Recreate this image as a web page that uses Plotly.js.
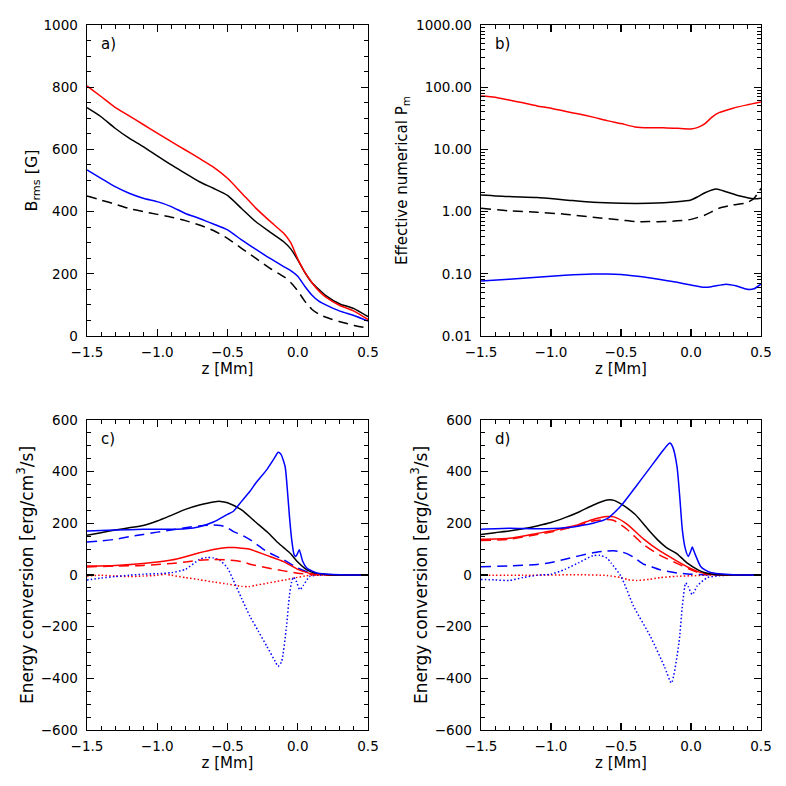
<!DOCTYPE html>
<html>
<head>
<meta charset="utf-8">
<script src="https://cdn.plot.ly/plotly-3.0.1.min.js"></script>
<style>
html,body{margin:0;padding:0;background:#fff;}
#chart{width:786px;height:786px;}
</style>
</head>
<body>
<div id="chart"></div>
<script>
// ---------- Panel a) B_rms [G] ----------
const zA = [-1.5,-1.4,-1.3,-1.2,-1.1,-1.0,-0.9,-0.8,-0.7,-0.6,-0.5,-0.4,-0.3,-0.2,-0.1,-0.05,0,0.05,0.1,0.15,0.2,0.3,0.4,0.5];
const aRed   = [804,770,735,708,680,652,625,598,571,543,507,460,412,370,330,300,248,205,172,145,125,98,80,53];
const aBlack = [734,705,668,636,609,579,550,523,496,475,452,410,368,335,303,280,245,205,172,150,130,103,88,62];
const aBlue  = [534,507,480,459,443,432,416,394,378,360,341,309,279,250,223,210,192,160,132,112,100,80,66,48];
const aDash  = [450,437,424,410,400,391,382,371,357,339,314,282,250,218,191,172,145,112,86,70,60,46,34,25];

// ---------- Panel b) Effective numerical Pm ----------
const zBr = [-1.5,-1.4,-1.3,-1.2,-1.1,-1.0,-0.9,-0.8,-0.7,-0.6,-0.5,-0.4,-0.3,-0.2,-0.1,0,0.05,0.1,0.15,0.2,0.3,0.4,0.5];
const bRed = [72,69,62,56,50,46,41,37,33,29,26,23,22.3,22.3,21.8,21.3,22.6,26,33,39,46,52,58];
const zBk = [-1.5,-1.3,-1.1,-0.9,-0.7,-0.5,-0.3,-0.1,0,0.05,0.1,0.18,0.25,0.35,0.45,0.5];
const bBlack = [1.85,1.74,1.68,1.54,1.41,1.36,1.36,1.44,1.54,1.74,2.01,2.31,2.09,1.78,1.61,1.64];
const zBd = [-1.5,-1.3,-1.1,-0.9,-0.7,-0.5,-0.4,-0.3,-0.2,-0.1,0,0.1,0.2,0.3,0.4,0.45,0.5];
const bDash = [1.13,1.03,0.975,0.91,0.81,0.73,0.69,0.69,0.69,0.71,0.75,0.88,1.13,1.28,1.39,1.63,2.37];
const zBb = [-1.5,-1.3,-1.1,-0.9,-0.7,-0.6,-0.5,-0.4,-0.3,-0.2,-0.1,0,0.1,0.15,0.25,0.32,0.4,0.45,0.5];
const bBlue = [0.0766,0.0815,0.0877,0.0946,0.0993,0.0993,0.097,0.092,0.0866,0.0794,0.073,0.066,0.0606,0.0622,0.0678,0.064,0.0563,0.0573,0.0686];
const bTickVals = [0.01,0.1,1,10,100,1000];
const bTickText = ['0.01','0.10','1.00','10.00','100.00','1000.00'];

// ---------- Panel c) Energy conversion ----------
const zCk = [-1.5,-1.4,-1.3,-1.2,-1.1,-1.0,-0.9,-0.8,-0.7,-0.6,-0.55,-0.5,-0.4,-0.3,-0.2,-0.15,-0.1,-0.05,0,0.05,0.1,0.2,0.3,0.5];
const cBlack = [154,164,174,183,192,209,231,254,271,283,285,280,252,205,158,130,106,82,50,26,11,2,0,0];
const zCb = [-1.5,-1.3,-1.1,-0.9,-0.8,-0.7,-0.6,-0.5,-0.46,-0.4,-0.34,-0.3,-0.22,-0.16,-0.14,-0.12,-0.09,-0.074,-0.059,-0.043,-0.026,-0.014,0.0,0.011,0.035,0.064,0.1,0.135,0.2,0.3,0.5];
const cBlue = [170,174,177,177,179,187,205,235,246,285,324,355,408,458,475,468,420,330,227,137,79,72,85,98,53,27,16,8,4,1,0];
const zCbd = [-1.5,-1.4,-1.3,-1.2,-1.1,-1.0,-0.9,-0.8,-0.7,-0.6,-0.55,-0.5,-0.46,-0.4,-0.34,-0.3,-0.22,-0.1,0,0.09,0.2,0.3,0.5];
const cBlueDash = [128,132,138,148,157,166,174,183,190,194,192,183,169,155,137,122,91,59,27,8,3,0,0];
const zCr = [-1.5,-1.3,-1.1,-1.0,-0.9,-0.8,-0.7,-0.6,-0.5,-0.45,-0.4,-0.34,-0.3,-0.22,-0.1,0,0.05,0.1,0.2,0.3,0.5];
const cRed = [35,37,45,50,58,71,86,99,106,106,104,100,92,76,52,22,12,5,1,0,0];
const zCrd = [-1.5,-1.3,-1.1,-1.0,-0.9,-0.8,-0.7,-0.6,-0.5,-0.4,-0.34,-0.22,-0.1,0,0.1,0.2,0.5];
const cRedDash = [31,35,37,41,45,50,57,60,58,52,42,28,16,7,2,0,0];
const zCro = [-1.5,-1.4,-1.3,-1.2,-1.1,-1.0,-0.95,-0.9,-0.8,-0.7,-0.6,-0.5,-0.4,-0.35,-0.3,-0.22,-0.15,-0.08,-0.03,0.05,0.1,0.2,0.5];
const cRedDot = [-4,-1,-4,-6,-4,-1,3,-1,-10,-18,-27,-35,-44,-45,-40,-32,-25,-18,-12,-4,-1,0,0];
const zCbo = [-1.5,-1.4,-1.3,-1.2,-1.1,-1.0,-0.9,-0.8,-0.7,-0.65,-0.6,-0.55,-0.5,-0.46,-0.4,-0.34,-0.28,-0.22,-0.16,-0.14,-0.115,-0.08,-0.06,-0.045,-0.03,-0.01,0.015,0.04,0.086,0.15,0.3,0.5];
const cBlueDot = [-19,-12,-6,-1,3,5,9,22,60,68,66,55,27,-18,-90,-160,-218,-276,-335,-354,-335,-199,-83,-30,-8,-25,-57,-40,-5,-1,0,0];

// ---------- Panel d) Energy conversion ----------
const zDk = [-1.5,-1.4,-1.3,-1.2,-1.1,-1.0,-0.9,-0.8,-0.7,-0.6,-0.55,-0.5,-0.4,-0.3,-0.24,-0.17,-0.1,-0.026,0.05,0.1,0.2,0.3,0.5];
const dBlack = [157,164,170,179,190,203,222,244,270,290,289,275,235,172,137,104,82,46,20,9,1,0,0];
const zDb = [-1.5,-1.3,-1.1,-0.9,-0.8,-0.7,-0.6,-0.5,-0.4,-0.3,-0.2,-0.16,-0.15,-0.13,-0.1,-0.08,-0.062,-0.04,-0.019,0.0,0.009,0.03,0.069,0.1,0.14,0.2,0.3,0.5];
const dBlue = [177,181,179,183,190,200,218,268,338,410,482,508,511,495,420,300,175,100,72,95,108,80,33,20,10,5,1,0];
const zDr = [-1.5,-1.3,-1.1,-1.0,-0.9,-0.8,-0.7,-0.6,-0.55,-0.46,-0.34,-0.22,-0.1,0,0.05,0.1,0.2,0.3,0.5];
const dRed = [138,142,161,170,183,196,215,226,225,198,140,92,54,24,13,6,1,0,0];
const dRedDash = [134,138,157,166,179,192,209,215,211,178,118,76,45,20,10,4,1,0,0];
const zDbd = [-1.5,-1.3,-1.1,-1.0,-0.9,-0.8,-0.7,-0.6,-0.55,-0.5,-0.45,-0.4,-0.34,-0.3,-0.22,-0.1,0,0.1,0.2,0.5];
const dBlueDash = [32,35,41,48,61,74,86,93,94,90,81,65,42,35,20,8,3,1,0,0];
const zDro = [-1.5,-1.2,-1.0,-0.8,-0.6,-0.5,-0.45,-0.39,-0.3,-0.22,-0.1,0,0.1,0.2,0.5];
const dRedDot = [-1,-1,0,1,-2,-10,-18,-21,-17,-10,-5,-3,-1,0,0];
const zDbo = [-1.5,-1.4,-1.3,-1.2,-1.1,-1.0,-0.9,-0.8,-0.7,-0.65,-0.6,-0.57,-0.5,-0.41,-0.29,-0.19,-0.14,-0.086,-0.062,-0.038,-0.02,0.009,0.045,0.117,0.2,0.3,0.5];
const dBlueDot = [-17,-19,-21,-10,-1,3,22,48,75,76,65,46,-5,-121,-238,-354,-418,-263,-121,-31,-45,-76,-42,-10,-3,0,0];

const xTickVals = [-1.5,-1.0,-0.5,0.0,0.5];
const xTickText = ['\u22121.5','\u22121.0','\u22120.5','0.0','0.5'];
const panelLabels = ['a)','b)','c)','d)'];

// ---------- styles ----------
const BLACK = 'rgb(0,0,0)', RED = 'rgb(255,0,0)', BLUE = 'rgb(0,0,255)';
const LW = 1.5;
const DASH = '10px,6px', DOT = '1.5px,2.2px';
function tr(x, y, color, dash, xa, ya) {
  return {x: x, y: y, type: 'scatter', mode: 'lines', xaxis: xa, yaxis: ya,
    line: {color: color, width: LW, dash: dash || 'solid', shape: 'spline', smoothing: 0.6},
    showlegend: false, hoverinfo: 'skip'};
}

const data = [
  tr(zA, aDash, BLACK, DASH, 'x', 'y'),
  tr(zA, aBlue, BLUE, null, 'x', 'y'),
  tr(zA, aBlack, BLACK, null, 'x', 'y'),
  tr(zA, aRed, RED, null, 'x', 'y'),

  tr(zBr, bRed, RED, null, 'x2', 'y2'),
  tr(zBd, bDash, BLACK, DASH, 'x2', 'y2'),
  tr(zBk, bBlack, BLACK, null, 'x2', 'y2'),
  tr(zBb, bBlue, BLUE, null, 'x2', 'y2'),

  tr(zCro, cRedDot, RED, DOT, 'x3', 'y3'),
  tr(zCbo, cBlueDot, BLUE, DOT, 'x3', 'y3'),
  tr(zCrd, cRedDash, RED, DASH, 'x3', 'y3'),
  tr(zCbd, cBlueDash, BLUE, DASH, 'x3', 'y3'),
  tr(zCr, cRed, RED, null, 'x3', 'y3'),
  tr(zCk, cBlack, BLACK, null, 'x3', 'y3'),
  tr(zCb, cBlue, BLUE, null, 'x3', 'y3'),

  tr(zDro, dRedDot, RED, DOT, 'x4', 'y4'),
  tr(zDbo, dBlueDot, BLUE, DOT, 'x4', 'y4'),
  tr(zDbd, dBlueDash, BLUE, DASH, 'x4', 'y4'),
  tr(zDr, dRedDash, RED, DASH, 'x4', 'y4'),
  tr(zDr, dRed, RED, null, 'x4', 'y4'),
  tr(zDk, dBlack, BLACK, null, 'x4', 'y4'),
  tr(zDb, dBlue, BLUE, null, 'x4', 'y4')
];

const FONT = 'DejaVu Sans, Liberation Sans, sans-serif';
const tickFont = {family: FONT, size: 13.5, color: '#000'};
function tf(size) { return {family: FONT, size: size, color: '#000'}; }

function xAxis(domain, anchor) {
  return {domain: domain, anchor: anchor, range: [-1.5, 0.5], autorange: false,
    tickmode: 'array', tickvals: xTickVals, ticktext: xTickText,
    ticks: 'inside', ticklen: 7, tickwidth: 1.2, tickcolor: '#000',
    minor: {dtick: 0.1, tick0: -1.5, ticks: 'inside', ticklen: 4, tickwidth: 1, tickcolor: '#000', showgrid: false},
    showline: true, linecolor: '#000', linewidth: 1.4, mirror: 'allticks',
    showgrid: false, zeroline: false, tickfont: tickFont, ticklabelstandoff: 3,
    title: {text: 'z [Mm]', font: tf(15), standoff: 3}, automargin: false};
}
function yLin(domain, anchor, lo, hi, dt, mdt, title, tsize, standoff) {
  return {domain: domain, anchor: anchor, range: [lo, hi], autorange: false,
    dtick: dt, tick0: 0, ticks: 'inside', ticklen: 7, tickwidth: 1.2, tickcolor: '#000',
    minor: {dtick: mdt, tick0: 0, ticks: 'inside', ticklen: 4, tickwidth: 1, tickcolor: '#000', showgrid: false},
    showline: true, linecolor: '#000', linewidth: 1.4, mirror: 'allticks',
    showgrid: false, zeroline: false, tickfont: tickFont, ticklabelstandoff: 5,
    tickformat: 'd',
    title: {text: title, font: tf(tsize), standoff: standoff}, automargin: false};
}

const bMinor = [];
for (let e = -2; e < 3; e++) {
  for (let m = 2; m <= 9; m++) bMinor.push(m * Math.pow(10, e));
}

const xdL = [0, 0.4169], xdR = [0.5846, 1];
const ydT = [0.5589, 1], ydB = [0, 0.4397];

const layout = {
  width: 786, height: 786,
  margin: {l: 87, r: 25, t: 25, b: 56, pad: 0},
  paper_bgcolor: '#fff', plot_bgcolor: '#fff',
  font: {family: FONT, color: '#000'},
  showlegend: false,
  xaxis: xAxis(xdL, 'y'),
  yaxis: yLin(ydT, 'x', 0, 1000, 200, 50, 'B<sub>rms</sub> [G]', 16, 2),
  xaxis2: xAxis(xdR, 'y2'),
  yaxis2: {domain: ydT, anchor: 'x2', type: 'log', range: [-2, 3], autorange: false,
    tickmode: 'array', tickvals: bTickVals, ticktext: bTickText,
    ticks: 'inside', ticklen: 7, tickwidth: 1.2, tickcolor: '#000',
    minor: {tickmode: 'array', tickvals: bMinor, ticks: 'inside', ticklen: 4, tickwidth: 1, tickcolor: '#000', showgrid: false},
    showline: true, linecolor: '#000', linewidth: 1.4, mirror: 'allticks',
    showgrid: false, zeroline: false, tickfont: tickFont, ticklabelstandoff: 5,
    title: {text: 'Effective numerical P<sub>m</sub>', font: tf(15), standoff: 5}, automargin: false},
  xaxis3: xAxis(xdL, 'y3'),
  yaxis3: yLin(ydB, 'x3', -600, 600, 200, 50, 'Energy conversion [erg/cm<sup>3</sup>/s]', 17, 3),
  xaxis4: xAxis(xdR, 'y4'),
  yaxis4: yLin(ydB, 'x4', -600, 600, 200, 50, 'Energy conversion [erg/cm<sup>3</sup>/s]', 17, 3),
  annotations: panelLabels.map((t, i) => ({
    text: t, showarrow: false,
    xref: (i === 0 ? 'x' : 'x' + (i + 1)) + ' domain',
    yref: (i === 0 ? 'y' : 'y' + (i + 1)) + ' domain',
    x: 0.075, y: 0.94, xanchor: 'center', yanchor: 'middle',
    font: tf(15)
  }))
};

Plotly.newPlot('chart', data, layout, {staticPlot: true, displayModeBar: false});
</script>
</body>
</html>
